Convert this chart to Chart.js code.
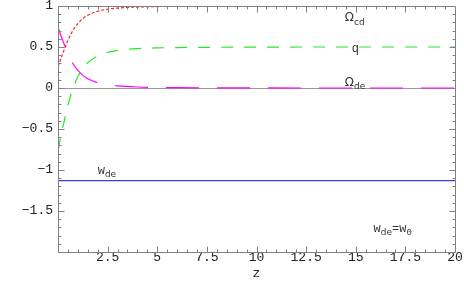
<!DOCTYPE html>
<html>
<head>
<meta charset="utf-8">
<script src="https://cdn.jsdelivr.net/npm/chart.js@4"></script>
<style>
  html, body { margin: 0; padding: 0; background: #fff; }
</style>
</head>
<body>
<canvas id="miGrafico" width="464" height="287"></canvas>
<script>
// datos
const zVals = [0, 0.25, 0.5, 0.75, 1, 1.25, 1.5, 2, 2.5, 3, 4, 5, 6, 8, 10, 12.5, 15, 17.5, 20];
const omegaCd = [0.26, 0.428, 0.581, 0.701, 0.786, 0.846, 0.887, 0.936, 0.961, 0.975, 0.988, 0.9935, 0.996, 0.998, 0.999, 1, 1, 1, 1];
const omegaDe = [0.74, 0.572, 0.419, 0.299, 0.214, 0.154, 0.113, 0.064, 0.039, 0.025, 0.012, 0.0065, 0.004, 0.002, 0.001, 0, 0, 0, 0];
const qVals = [-0.76, -0.472, -0.212, -0.008, 0.136, 0.238, 0.308, 0.391, 0.434, 0.458, 0.48, 0.489, 0.493, 0.497, 0.498, 0.5, 0.5, 0.5, 0.5];
const wZ = [0, 20];
const wDe = [-1.13, -1.13];
const xTicks = [2.5, 5, 7.5, 10, 12.5, 15, 17.5, 20];
const yTicks = [1, 0.5, 0, -0.5, -1, -1.5];

const pares = (xs, ys) => xs.map((x, i) => ({x: x, y: ys[i]}));

const mono = '"Liberation Mono", "DejaVu Sans Mono", monospace';

// ejes tipo Mathematica: marco con marcas hacia dentro
const marco = {
    id: 'marco',
    beforeDatasetsDraw(chart) {
        const {ctx, chartArea: a, scales: {x, y}} = chart;
        ctx.save();
        ctx.strokeStyle = '#999';
        ctx.lineWidth = 1;
        // linea del cero
        const y0 = Math.round(y.getPixelForValue(0)) + 0.5;
        ctx.beginPath();
        ctx.moveTo(a.left, y0);
        ctx.lineTo(a.right, y0);
        ctx.stroke();
        ctx.restore();
    },
    afterDatasetsDraw(chart) {
        const {ctx, chartArea: a, scales: {x, y}} = chart;
        ctx.save();
        ctx.strokeStyle = '#808080';
        ctx.lineWidth = 1;
        const L = Math.round(a.left) + 0.5, R = Math.round(a.right) + 0.5;
        const T = Math.round(a.top) + 0.5, B = Math.round(a.bottom) + 0.5;
        ctx.beginPath();
        ctx.rect(L, T, R - L, B - T);
        ctx.stroke();
        ctx.beginPath();
        for (let i = 1; i < 40; i++) {
            const v = i * 0.5;
            const px = Math.round(x.getPixelForValue(v)) + 0.5;
            const len = (i % 5 === 0) ? 6 : 3;
            ctx.moveTo(px, B); ctx.lineTo(px, B - len);
            ctx.moveTo(px, T); ctx.lineTo(px, T + len);
        }
        for (let i = -19; i < 10; i++) {
            const v = i * 0.1;
            const py = Math.round(y.getPixelForValue(v)) + 0.5;
            const len = (i % 5 === 0) ? 6 : 3;
            ctx.moveTo(L, py); ctx.lineTo(L + len, py);
            ctx.moveTo(R, py); ctx.lineTo(R - len, py);
        }
        ctx.stroke();

        // etiquetas de las curvas
        const txt = (zx, vy, base, sub, extra) => {
            let px = x.getPixelForValue(zx);
            const py = y.getPixelForValue(vy);
            ctx.fillStyle = '#333';
            ctx.textBaseline = 'middle';
            ctx.textAlign = 'left';
            ctx.font = '12px ' + base.font;
            ctx.fillText(base.t, px, py);
            px += ctx.measureText(base.t).width;
            if (sub) {
                ctx.font = '9px "DejaVu Sans", sans-serif';
                ctx.fillText(sub, px, py + 4);
                px += ctx.measureText(sub).width;
            }
            if (extra) {
                ctx.font = '12px ' + mono;
                ctx.fillText(extra.t, px, py);
                px += ctx.measureText(extra.t).width;
                ctx.font = '9px ' + mono;
                ctx.fillText(extra.s, px, py + 4);
            }
        };
        txt(14.45, 0.85, {t: 'Ω', font: '"DejaVu Sans", sans-serif'}, 'cd');
        txt(14.8, 0.48, {t: 'q', font: mono}, null);
        txt(14.45, 0.06, {t: 'Ω', font: '"DejaVu Sans", sans-serif'}, 'de');
        txt(2.0, -1.01, {t: 'w', font: mono}, 'de');
        txt(15.9, -1.72, {t: 'w', font: mono}, 'de', {t: '=w', s: '0'});
        ctx.restore();
    }
};

var ctx = document.getElementById('miGrafico').getContext('2d');
var myChart = new Chart(ctx, {
    type: 'line',
    data: {
        datasets: [
            {
                label: 'Ωcd',
                data: pares(zVals, omegaCd),
                borderColor: 'rgba(255, 30, 30, 1)',
                borderWidth: 1.2,
                borderDash: [3, 2],
                pointRadius: 0,
                cubicInterpolationMode: 'monotone'
            },
            {
                label: 'q',
                data: pares(zVals, qVals),
                borderColor: 'rgba(40, 230, 40, 1)',
                borderWidth: 1.2,
                borderDash: [12, 11],
                pointRadius: 0,
                cubicInterpolationMode: 'monotone'
            },
            {
                label: 'Ωde',
                data: pares(zVals, omegaDe),
                borderColor: 'rgba(255, 0, 255, 1)',
                borderWidth: 1.2,
                borderDash: [33, 18],
                borderDashOffset: 13,
                pointRadius: 0,
                cubicInterpolationMode: 'monotone'
            },
            {
                label: 'wde',
                data: pares(wZ, wDe),
                borderColor: 'rgba(60, 60, 220, 1)',
                borderWidth: 1.2,
                pointRadius: 0
            }
        ]
    },
    options: {
        responsive: false,
        animation: false,
        layout: { autoPadding: false, padding: { top: 6, right: 9, left: 0, bottom: 0 } },
        plugins: {
            legend: { display: false },
            tooltip: { enabled: false }
        },
        scales: {
            x: {
                type: 'linear',
                min: 0,
                max: 20,
                border: { display: false },
                grid: { display: false, drawTicks: false, tickLength: 0 },
                afterBuildTicks: (s) => { s.ticks = xTicks.map(v => ({value: v})); },
                afterFit: (s) => { s.height = 35; s.paddingLeft = 0; s.paddingRight = 0; },
                ticks: {
                    color: '#222',
                    padding: -2,
                    maxRotation: 0,
                    font: { family: mono, size: 13 },
                    callback: (v) => String(v)
                },
                title: {
                    display: true,
                    text: 'z',
                    color: '#222',
                    padding: { top: 0, bottom: 6 },
                    font: { family: mono, size: 13 }
                }
            },
            y: {
                type: 'linear',
                min: -2,
                max: 1,
                border: { display: false },
                grid: { display: false, drawTicks: false, tickLength: 0 },
                afterBuildTicks: (s) => { s.ticks = yTicks.map(v => ({value: v})); },
                afterFit: (s) => { s.width = 58; s.paddingTop = 0; s.paddingBottom = 0; },
                ticks: {
                    color: '#222',
                    padding: 5,
                    font: { family: mono, size: 13 },
                    callback: (v) => String(v).replace('-', '\u2212')
                }
            }
        }
    },
    plugins: [marco]
});
</script>
</body>
</html>
